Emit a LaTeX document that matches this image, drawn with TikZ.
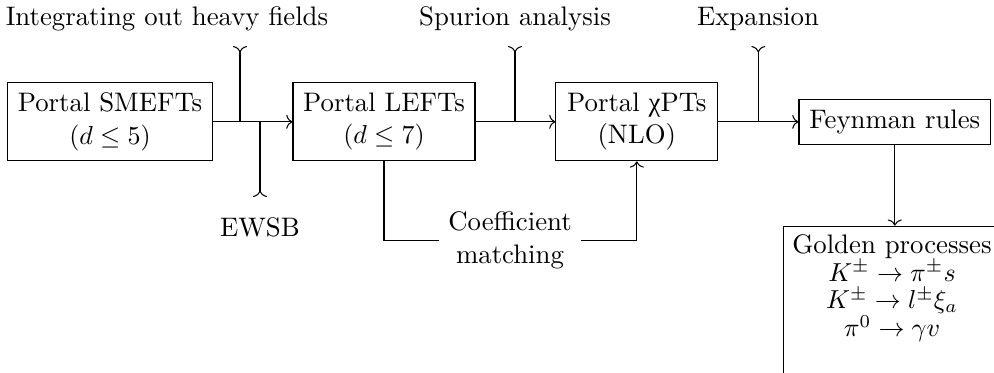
\documentclass[tikz,border=0pt]{standalone}
\usepackage{fontspec}
\usetikzlibrary{arrows.meta}
\newfontfamily\grkfont{Liberation Serif}
\begin{document}
\begin{tikzpicture}[x=0.3846pt,y=-0.3846pt,
  >={Computer Modern Rightarrow[length=2.4pt,width=5.4pt]},
  every node/.style={font=\fontsize{10.3pt}{12.4pt}\selectfont},
  box/.style={draw, align=center, inner sep=3.33pt},
  lbl/.style={inner sep=3.33pt, align=center},
  flow/.style={->},
  feed/.style={>-}]
\useasboundingbox (0,0) rectangle (994,372);
% boxes
\node[box, minimum width=78.5pt, minimum height=30pt] (smeft) at (110,121.8) {Portal SMEFTs\\$(d\le 5)$};
\node[box, minimum width=70pt, minimum height=30pt] (left) at (384,121.8) {Portal LEFTs\\$(d\le 7)$};
\node[box, minimum width=62.2pt, minimum height=30pt] (chipt) at (636.8,121.8) {Portal {\grkfont χ}PTs\\(NLO)};
\node[box, minimum width=73.7pt, minimum height=17.4pt] (feyn) at (894.8,121.8) {Feynman rules};
\node[box, anchor=north, minimum width=82.3pt] (golden) at (892,225.7)
  {Golden processes\\[-1.8pt] $K^\pm\to\pi^\pm s$\\[-1.8pt] $K^\pm\to l^\pm\xi_a$\\[-1.8pt] $\pi^0\to\gamma v$\rule[-25pt]{0pt}{0pt}};
% labels
\node[lbl, anchor=base] (integ) at (167,25) {Integrating out heavy fields};
\node[lbl, anchor=base] (spur) at (515,25) {Spurion analysis};
\node[lbl, anchor=base] (expa) at (758,25) {Expansion};
\node[lbl, anchor=base] (ewsb) at (260,236) {EWSB};
\node[lbl] (coef) at (510,240.3) {Coefficient\\matching};
% branch ends
\coordinate (integtip) at (240,46);
\coordinate (spurtip) at (515,46);
\coordinate (expatip) at (758.3,46);
\coordinate (ewsbtip) at (260,197);
% connectors
\draw[flow] (smeft) -- (left);
\draw[feed] (integtip) -- (integtip |- smeft.east);
\draw[feed] (ewsbtip) -- (ewsbtip |- smeft.east);
\draw[flow] (left) -- (chipt);
\draw[feed] (spurtip) -- (spurtip |- left.east);
\draw[flow] (chipt) -- (feyn);
\draw[feed] (expatip) -- (expatip |- chipt.east);
\draw[flow] (feyn.south) -- (feyn.south |- golden.north);
\draw (left.south) |- (coef.west);
\draw[flow] (coef.east) -| (chipt.south);
\end{tikzpicture}
\end{document}
